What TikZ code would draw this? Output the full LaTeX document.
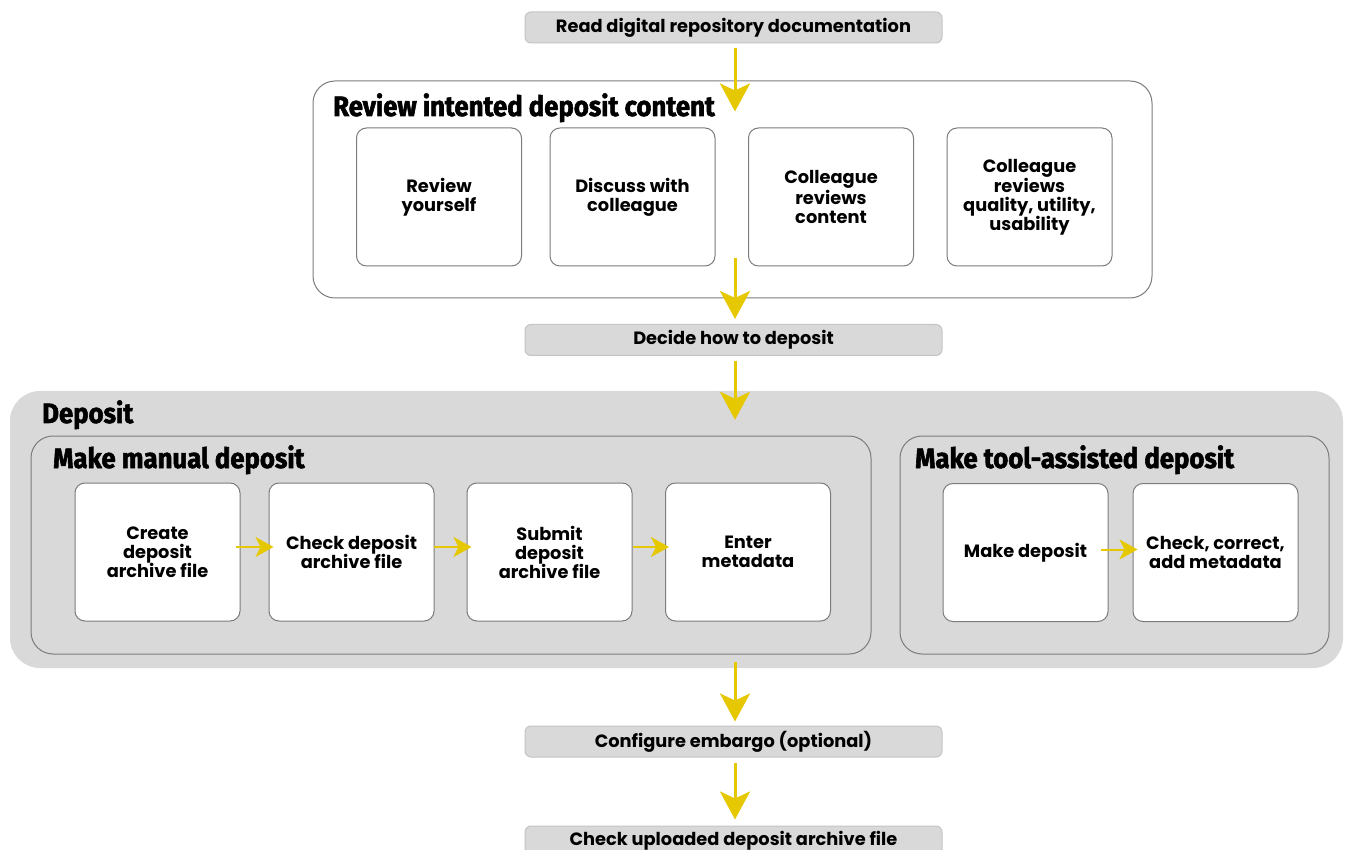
\documentclass[tikz,border=0pt]{standalone}
\usepackage{fontspec}
\setmainfont{Poppins}
\newfontfamily\headfont[FakeStretch=0.92,FakeBold=2]{Fira Sans}
\usetikzlibrary{arrows.meta}
\definecolor{ylw}{HTML}{E6C800}
\definecolor{boxgray}{HTML}{D9D9D9}
\definecolor{edgegray}{HTML}{7C7C7C}
\definecolor{baredge}{HTML}{C4C4C4}
\tikzset{
  bodyfont/.style={font=\fontsize{17.8}{19}\selectfont\bfseries},
  flowbar/.style={draw=baredge, fill=boxgray, rounded corners=6pt, line width=1pt,
    minimum width=417pt, minimum height=31pt, inner sep=0pt, bodyfont},
  stepbox/.style={draw=edgegray, fill=white, rounded corners=10pt, line width=1pt,
    minimum width=165pt, minimum height=138pt, inner sep=0pt, align=center, bodyfont},
  groupbox/.style={draw=edgegray, rounded corners=22pt, line width=1pt, inner sep=0pt},
  grouptitle/.style={anchor=base west, inner sep=0pt,
    font=\headfont\fontsize{28}{30}\selectfont\bfseries},
  bigarrow/.style={draw=ylw, line width=3pt, -{Stealth[length=28pt,width=30pt,inset=7pt]}},
  smallarrow/.style={draw=ylw, line width=2pt, -{Stealth[length=18pt,width=20pt,inset=5pt]}}
}
\begin{document}
\begin{tikzpicture}[x=1pt,y=-1pt]
\useasboundingbox (0,0) rectangle (1345,850);
\clip (0,0) rectangle (1345,850);

% top bar
\node[flowbar] (read) at (733.5,27.5) {Read digital repository documentation};

% review group
\node[groupbox, fill=white, minimum width=839pt, minimum height=217pt] (review) at (732.5,189.5) {};
\node[grouptitle] (reviewT) at (333,116) {Review intented deposit content};
\node[stepbox] (r1) at (439,197) {Review\\yourself};
\node[stepbox] (r2) at (632.5,197) {Discuss with\\colleague};
\node[stepbox] (r3) at (831,197) {Colleague\\reviews\\content};
\node[stepbox] (r4) at (1029.5,197) {Colleague\\reviews\\quality, utility,\\usability};

\node[flowbar] (decide) at (733.5,340) {Decide how to deposit};

% deposit group
\node[fill=boxgray, rounded corners=30pt, minimum width=1333pt, minimum height=277pt, inner sep=0pt] (deposit) at (676.5,529.5) {};
\node[grouptitle] (depositT) at (42,423) {Deposit};

\node[groupbox, fill=boxgray, minimum width=840pt, minimum height=218pt] (manual) at (451,545) {};
\node[grouptitle] (manualT) at (53,468) {Make manual deposit};
\node[stepbox] (m1) at (157.5,552) {Create\\deposit\\archive file};
\node[stepbox] (m2) at (351.5,552) {Check deposit\\archive file};
\node[stepbox] (m3) at (549.5,552) {Submit\\deposit\\archive file};
\node[stepbox] (m4) at (748,552) {Enter\\metadata};

\node[groupbox, fill=boxgray, minimum width=429pt, minimum height=218pt] (tool) at (1114.5,545) {};
\node[grouptitle] (toolT) at (915,468) {Make tool-assisted deposit};
\node[stepbox] (t1) at (1025.5,552.5) {Make deposit};
\node[stepbox] (t2) at (1215.5,552.5) {Check, correct,\\add metadata};

\node[flowbar] (embargo) at (733.5,741.5) {Configure embargo (optional)};
\node[flowbar, minimum height=30pt] (check) at (733.5,841) {Check uploaded deposit archive file};

% vertical arrows
\draw[bigarrow] ([xshift=1.5pt,yshift=-5pt]read.south) -- ([xshift=2.5pt,yshift=-31pt]review.north);
\draw[bigarrow] ([xshift=2.5pt,yshift=40pt]review.south) -- ([xshift=1.5pt,yshift=5pt]decide.north);
\draw[bigarrow] ([xshift=1.5pt,yshift=-5pt]decide.south) -- ([xshift=58.5pt,yshift=-29pt]deposit.north);
\draw[bigarrow] ([xshift=58.5pt,yshift=6pt]deposit.south) -- ([xshift=1.5pt,yshift=4pt]embargo.north);
\draw[bigarrow] ([xshift=1.5pt,yshift=-5pt]embargo.south) -- ([xshift=1.5pt,yshift=6pt]check.north);

% horizontal arrows
\draw[smallarrow] ([xshift=-5pt,yshift=5pt]m1.east) -- ([xshift=5pt,yshift=5pt]m2.west);
\draw[smallarrow] ([xshift=-1pt,yshift=5pt]m2.east) -- ([xshift=5pt,yshift=5pt]m3.west);
\draw[smallarrow] ([xshift=0pt,yshift=5pt]m3.east) -- ([xshift=4pt,yshift=5pt]m4.west);
\draw[smallarrow] ([xshift=-8pt,yshift=3pt]t1.east) -- ([xshift=5pt,yshift=3pt]t2.west);
\end{tikzpicture}
\end{document}
